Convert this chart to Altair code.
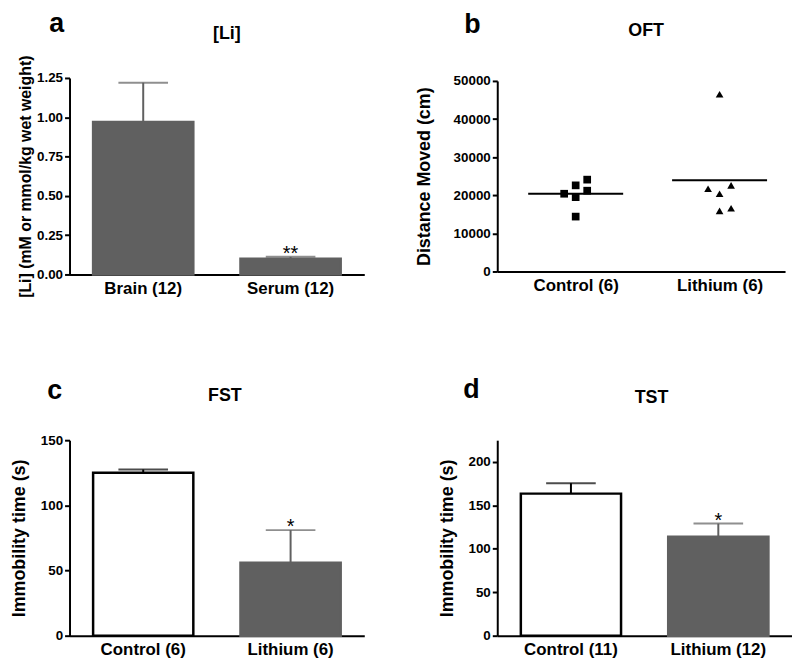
import altair as alt
import pandas as pd

FONT = "Liberation Sans"
GRAY = "#606060"

# ---- Panel a: [Li]
a_cats = ["Brain (12)", "Serum (12)"]
a_means = [0.97, 0.10]
a_sems = [0.25, 0.012]
a_stars = ["", "**"]

# ---- Panel b: OFT (individual animals)
b_groups = ["Control (6)", "Lithium (6)"]
b_control = [20400, 22600, 19500, 14400, 24100, 21200]
b_lithium = [21700, 46500, 20400, 15900, 22600, 16600]
b_spread = [-1, 0, 0, 0, 1, 1]

# ---- Panel c: FST
c_cats = ["Control (6)", "Lithium (6)"]
c_means = [125, 56]
c_sems = [2.5, 25]
c_stars = ["", "*"]

# ---- Panel d: TST
d_cats = ["Control (11)", "Lithium (12)"]
d_means = [163.5, 114]
d_sems = [12, 15]
d_stars = ["", "*"]


def annot(letter, lx, ly, title, tx, ty, w):
    let = alt.Chart(pd.DataFrame({"t": [letter]})).mark_text(
        font=FONT, fontSize=27, fontWeight="bold", align="center",
        baseline="top", color="black"
    ).encode(text="t:N", x=alt.value(lx), y=alt.value(ly))
    tit = alt.Chart(pd.DataFrame({"t": [title]})).mark_text(
        font=FONT, fontSize=18, fontWeight="bold", align="center",
        baseline="alphabetic", color="black"
    ).encode(text="t:N", x=alt.value(w / 2 + tx), y=alt.value(ty))
    return [let, tit]


def bar_panel(cats, means, sems, stars, ymax, ticks, fmt, fills, strokes,
              errcols, ytitle, ytitle_size, tpad, w, h, letter, lx, ly,
              title, tx, ty, stardy):
    df = pd.DataFrame({"cat": cats, "mean": means, "sem": sems, "star": stars})
    base = alt.Chart(df).transform_calculate(top="datum.mean + datum.sem")
    xenc = alt.X("cat:N", sort=cats,
                 scale=alt.Scale(paddingInner=0.32, paddingOuter=0.16),
                 axis=alt.Axis(title=None, labelAngle=0, ticks=False,
                               labelFontSize=17, labelPadding=6))
    yscale = alt.Scale(domain=[0, ymax], nice=False, zero=True)
    bars = base.mark_bar(strokeWidth=2.5).encode(
        x=xenc,
        y=alt.Y("mean:Q", scale=yscale,
                axis=alt.Axis(title=ytitle, values=ticks, tickCount=len(ticks) + 2,
                              format=fmt, titleFontSize=ytitle_size, titlePadding=tpad)),
        fill=alt.Fill("cat:N", scale=alt.Scale(domain=cats, range=fills), legend=None),
        stroke=alt.Stroke("cat:N", scale=alt.Scale(domain=cats, range=strokes), legend=None),
    )
    ecol = alt.Color("cat:N", scale=alt.Scale(domain=cats, range=errcols), legend=None)
    rule = base.mark_rule(strokeWidth=2).encode(
        x=alt.X("cat:N", sort=cats), y="mean:Q", y2="top:Q", color=ecol)
    cap = base.mark_tick(thickness=2, size=50).encode(
        x=alt.X("cat:N", sort=cats), y="top:Q", color=ecol)
    star = base.mark_text(font=FONT, fontSize=20, baseline="alphabetic",
                          dy=stardy, color="black").encode(
        x=alt.X("cat:N", sort=cats), y="top:Q", text="star:N")
    return alt.layer(bars, rule, cap, star, *annot(letter, lx, ly, title, tx, ty, w)
                     ).properties(width=w, height=h)


W = 297

pa = bar_panel(a_cats, a_means, a_sems, a_stars, 1.25,
               [0, 0.25, 0.5, 0.75, 1.0, 1.25], ".2f",
               [GRAY, GRAY], [GRAY, GRAY], [GRAY, GRAY],
               "[Li] (mM or mmol/kg wet weight)", 16, 3, W, 198,
               "a", -13, -67, "[Li]", 10, -39, 3)

pc = bar_panel(c_cats, c_means, c_sems, c_stars, 150,
               [0, 50, 100, 150], "d",
               ["white", GRAY], ["black", GRAY], ["black", GRAY],
               "Immobility time (s)", 18, 12, W, 197,
               "c", -15, -62, "FST", 8, -39, 3)

pd_ = bar_panel(d_cats, d_means, d_sems, d_stars, 225,
                [0, 50, 100, 150, 200], "d",
                ["white", GRAY], ["black", GRAY], ["black", GRAY],
                "Immobility time (s)", 18, 12, W, 197,
                "d", -26, -64, "TST", 7, -37, 3)

# panel b
rows = []
for gi, (g, vals) in enumerate([(b_groups[0], b_control), (b_groups[1], b_lithium)]):
    for v, s in zip(vals, b_spread):
        rows.append({"group": g, "idx": gi, "spread": s, "value": v})
bdf = pd.DataFrame(rows)
b_ticks = [0, 10000, 20000, 30000, 40000, 50000]
label_expr = "datum.value == 0 ? '%s' : '%s'" % (b_groups[0], b_groups[1])
bx = alt.Scale(domain=[-0.545, 1.455], nice=False, zero=False)
bbase = alt.Chart(bdf)
pts = bbase.transform_calculate(pos="datum.idx + datum.spread * 0.08").mark_point(
    filled=True, opacity=1, size=60, color="black").encode(
    x=alt.X("pos:Q", scale=bx,
            axis=alt.Axis(title=None, values=[0, 1], labelExpr=label_expr,
                          ticks=False, labelFontSize=17, labelPadding=6,
                          labelFlush=False)),
    y=alt.Y("value:Q", scale=alt.Scale(domain=[0, 50000], nice=False),
            axis=alt.Axis(title="Distance Moved (cm)", values=b_ticks, tickCount=len(b_ticks) + 2,
                          format="d", titleFontSize=18, titlePadding=20)),
    shape=alt.Shape("group:N", scale=alt.Scale(domain=b_groups, range=["square", "triangle-up"]),
                    legend=None),
)
meanline = bbase.transform_aggregate(m="mean(value)", groupby=["group", "idx"]).transform_calculate(
    x0="datum.idx - 0.33", x1="datum.idx + 0.33").mark_rule(strokeWidth=2, color="black").encode(
    x=alt.X("x0:Q", scale=bx), x2="x1:Q", y="m:Q")
pb = alt.layer(pts, meanline, *annot("b", -25, -69, "OFT", 5, -45, 290)).properties(width=290, height=192)

chart = alt.concat(pa, pb, pc, pd_, columns=2, spacing={"row": 167, "column": 134},
                   bounds="flush", center=True).resolve_scale(
    fill="independent", stroke="independent", color="independent", shape="independent"
).properties(
    padding={"left": 2, "top": 0, "right": 0, "bottom": 0}
).configure_view(stroke=None).configure_axis(
    labelFont=FONT, titleFont=FONT, labelFontWeight="bold", titleFontWeight="bold",
    labelColor="black", titleColor="black", domainColor="black", tickColor="black",
    domainWidth=2, tickWidth=2, tickSize=5, labelFontSize=13.5, grid=False,
    labelPadding=2, labelOverlap=False
)

chart.save("out.html", embed_options={"renderer": "svg", "actions": False})
